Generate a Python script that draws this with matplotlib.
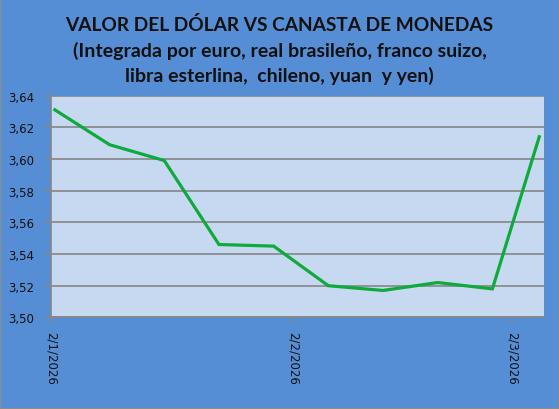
import datetime as dt
import matplotlib
matplotlib.use("Agg")
import matplotlib.pyplot as plt
from matplotlib.patches import Rectangle

# weekly values (dates are d/m/yyyy in the original)
fechas = [dt.datetime(2026, 1, 2), dt.datetime(2026, 1, 9), dt.datetime(2026, 1, 16),
          dt.datetime(2026, 1, 23), dt.datetime(2026, 1, 30), dt.datetime(2026, 2, 6),
          dt.datetime(2026, 2, 13), dt.datetime(2026, 2, 20), dt.datetime(2026, 2, 27),
          dt.datetime(2026, 3, 5)]
valores = [3.631, 3.609, 3.599, 3.546, 3.545, 3.520, 3.517, 3.522, 3.518, 3.614]

tick_fechas = [dt.datetime(2026, 1, 2), dt.datetime(2026, 2, 2), dt.datetime(2026, 3, 2)]
tick_labels = ["2/1/2026", "2/2/2026", "2/3/2026"]
y_ticks = [3.50, 3.52, 3.54, 3.56, 3.58, 3.60, 3.62, 3.64]

titulo = "VALOR DEL DÓLAR VS CANASTA DE MONEDAS"
subtitulo = "(Integrada por euro, real brasileño, franco suizo,\nlibra esterlina,  chileno, yuan  y yen)"

W, H = 559, 410
fig = plt.figure(figsize=(W / 100, H / 100), dpi=100)
fig.patch.set_facecolor("#558ED5")
fig.patches.append(Rectangle((0, 0), 1, 1, transform=fig.transFigure, fill=False,
                             edgecolor="#8C8C8C", linewidth=1.5))

ax = fig.add_axes([51 / W, 1 - 318.4 / H, (543.5 - 51) / W, (318.4 - 96.6) / H])
ax.set_facecolor("#C6D9F1")

# Excel puts each point in the middle of its day
x = [f + dt.timedelta(hours=12) for f in fechas]
ax.plot(x, valores, color="#0EAA3C", linewidth=2.3, solid_joinstyle="miter", zorder=3)

ax.set_xlim(dt.datetime(2026, 1, 2), dt.datetime(2026, 3, 6, 1))
ax.set_ylim(3.50, 3.64)
ax.set_yticks(y_ticks)
ax.set_yticklabels([f"{v:.2f}".replace(".", ",") for v in y_ticks])
ax.set_xticks(tick_fechas)
ax.set_xticklabels(tick_labels, rotation=270, va="top", ha="center")
ax.grid(axis="y", color="#868686", linewidth=1.2)
ax.set_axisbelow(True)

for s in ["top", "right"]:
    ax.spines[s].set_visible(False)
for s in ["left", "bottom"]:
    ax.spines[s].set_color("#868686")
    ax.spines[s].set_linewidth(1.2)
ax.tick_params(axis="both", colors="#868686", length=4, width=1.2, labelcolor="#111111",
               labelsize=8.5)
ax.tick_params(axis="y", pad=8)
ax.tick_params(axis="x", pad=6)

fig.text(0.5, 1 - 25 / H, titulo, ha="center", va="center", fontsize=13.8,
         fontweight="bold", family="Lato", color="#111111")
fig.text(0.5, 1 - 63.5 / H, subtitulo, ha="center", va="center", fontsize=14,
         fontweight="bold", family="Lato", color="#111111", linespacing=1.4)

fig.savefig("out.png", dpi=100, facecolor=fig.get_facecolor())
